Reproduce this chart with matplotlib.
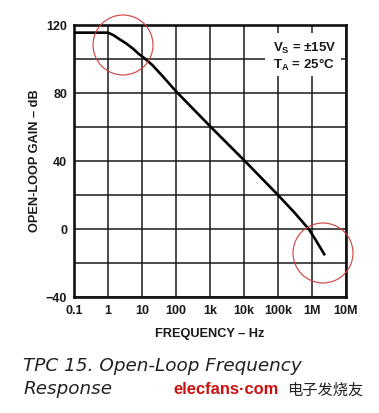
import matplotlib
matplotlib.use("Agg")
import matplotlib.pyplot as plt
from matplotlib.patches import Ellipse

freq_hz = [0.1, 0.3, 1, 1.45, 2.2, 3.5, 5.5, 8, 12.6, 20, 40, 100, 1e3, 1e4, 1e5, 3e5, 8e5, 1.2e6, 2.4e6]
gain_db = [115.5, 115.5, 115.5, 114, 111.6, 109, 106, 103, 100, 96.5, 90, 81, 60.5, 40.5, 20, 9.8, 0, -5.5, -15.5]

x_ticks = [0.1, 1, 10, 100, 1e3, 1e4, 1e5, 1e6, 1e7]
x_tick_labels = ["0.1", "1", "10", "100", "1k", "10k", "100k", "1M", "10M"]
y_ticks = [-40, -20, 0, 20, 40, 60, 80, 100, 120]
y_tick_labels = ["\u221240", "", "0", "", "40", "", "80", "", "120"]

plt.rcParams['font.family'] = ['Liberation Sans', 'DejaVu Sans']
plt.rcParams['mathtext.fontset'] = 'custom'
plt.rcParams['mathtext.rm'] = 'Liberation Sans:bold'
plt.rcParams['mathtext.bf'] = 'Liberation Sans:bold'

W, H = 379, 413
fig = plt.figure(figsize=(W / 100, H / 100), dpi=100)
ax = fig.add_axes([74 / W, 1 - 297 / H, 272 / W, 272 / H])

ax.plot(freq_hz, gain_db, color='black', lw=1.9, solid_capstyle='butt', zorder=3)
ax.set_xscale('log')
ax.set_xlim(0.1, 1e7)
ax.set_ylim(-40, 120)
ax.set_xticks(x_ticks)
ax.set_xticklabels(x_tick_labels)
ax.set_yticks(y_ticks)
ax.set_yticklabels(y_tick_labels)
ax.minorticks_off()
ax.grid(True, color='#1a1a1a', lw=1.1)
ax.tick_params(length=0, labelsize=9, colors='#1a1a1a')
ax.tick_params(axis='x', pad=6)
ax.tick_params(axis='y', pad=5)
for lab in ax.get_xticklabels() + ax.get_yticklabels():
    lab.set_fontweight('bold')
for s in ax.spines.values():
    s.set_linewidth(1.9)
    s.set_color('#111111')

ax.set_xlabel("FREQUENCY \u2013 Hz", fontsize=9.2, fontweight='bold', color='#1a1a1a', labelpad=7.5)
fig.text(35 / W, 1 - 232 / H, "OPEN-LOOP GAIN \u2013 dB", rotation=90, ha='center', va='bottom',
         fontsize=9.2, fontweight='bold', color='#1a1a1a')

# condition box
fig.patches.append(plt.Rectangle((265 / W, 1 - 76 / H), 76 / W, 43 / H, transform=fig.transFigure,
                                 facecolor='white', edgecolor='none', zorder=5))
fig.text(273 / W, 1 - 48 / H, "V$_\\mathregular{S}$ = \u00b115V", ha='left', va='center',
         fontsize=9.5, fontweight='bold', color='#1a1a1a', zorder=6)
fig.text(273 / W, 1 - 65 / H, "T$_\\mathregular{A}$ = 25\u00b0C", ha='left', va='center',
         fontsize=9.5, fontweight='bold', color='#1a1a1a', zorder=6)

# red annotation circles
for cx, cy in [(123, 45), (323, 253)]:
    fig.patches.append(Ellipse((cx / W, 1 - cy / H), 60 / W, 60 / H, transform=fig.transFigure,
                               fill=False, edgecolor='#d03c3c', lw=0.8, zorder=7))

# caption
fig.text(23 / W, 1 - 371 / H, "TPC 15. Open-Loop Frequency", ha='left', va='baseline',
         fontsize=13.2, style='italic', color='#222222', family=['DejaVu Sans'])
fig.text(23 / W, 1 - 393.5 / H, "Response", ha='left', va='baseline',
         fontsize=13.2, style='italic', color='#222222', family=['DejaVu Sans'])

# watermark
fig.text(173 / W, 1 - 389 / H, "elecfans\u00b7com", ha='left', va='center',
         fontsize=11.9, fontweight='bold', color='#cc1010')
fig.text(287 / W, 1 - 390 / H, "电子发烧友", ha='left', va='center',
         fontsize=11, color='#222222', family=['Noto Sans CJK SC', 'DejaVu Sans'])

fig.savefig("out.png", dpi=100)
